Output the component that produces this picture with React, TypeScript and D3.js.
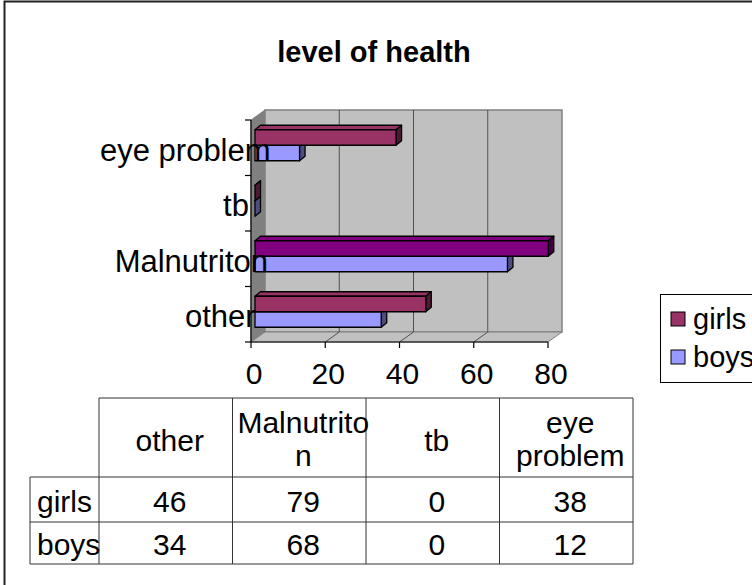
import React from "react";
import * as d3 from "d3";

const title = "level of health";
const categories = ["other", "Malnutriton", "tb", "eye problem"];
const seriesNames = ["girls", "boys"];
const girls = [46, 79, 0, 38];
const boys = [34, 68, 0, 12];
const xTicks = [0, 20, 40, 60, 80];
const headerLines = [["other"], ["Malnutrito", "n"], ["tb"], ["eye", "problem"]];

const FONT = "'Liberation Sans', Arial, Helvetica, sans-serif";

let ctx: CanvasRenderingContext2D | null = null;
function measure(text: string, size: number, bold = false): number {
  if (!ctx) ctx = document.createElement("canvas").getContext("2d");
  if (!ctx) return text.length * size * 0.5;
  ctx.font = `${bold ? "bold " : ""}${size}px ${FONT}`;
  return ctx.measureText(text).width;
}

const W = 752;
const H = 585;

// plot box (front plane)
const FX0 = 251;
const FX1 = 548;
const FY0 = 120;
const FY1 = 342;
const DX = 14;
const DY = -10;

const xScale = d3.scaleLinear().domain([0, 80]).range([FX0, FX1]);
const yBand = d3.scaleBand<string>().domain(categories).range([FY1, FY0]);
const sub = d3
  .scaleBand<string>()
  .domain(seriesNames)
  .range([0, yBand.bandwidth()])
  .paddingInner(0)
  .paddingOuter(0.79);

const girlsColors = ["#993366", "#800080", "#993366", "#993366"];
const girlsSide = ["#4d1a33", "#400040", "#4d1a33", "#4d1a33"];
const boysColor = "#9999ff";
const boysSide = "#4d4d80";

const BAR_DX0 = 4;
const BAR_DY0 = -2.5;
const BDX = 5.5;
const BDY = -4.5;

function pts(p: [number, number][]) {
  return p.map((q) => q.join(",")).join(" ");
}

function Bar({ v, y, h, fill, side }: { v: number; y: number; h: number; fill: string; side: string }) {
  const xa = xScale(0) + BAR_DX0;
  const xb = xScale(v) + BAR_DX0;
  const yy = y + BAR_DY0;
  return (
    <g stroke="#000" strokeWidth={1.3} strokeLinejoin="round">
      <polygon
        points={pts([
          [xa, yy],
          [xa + BDX, yy + BDY],
          [xb + BDX, yy + BDY],
          [xb, yy],
        ])}
        fill={fill}
      />
      <polygon
        points={pts([
          [xb, yy],
          [xb + BDX, yy + BDY],
          [xb + BDX, yy + h + BDY],
          [xb, yy + h],
        ])}
        fill={side}
      />
      {v > 0 && <rect x={xa} y={yy} width={xb - xa} height={h} fill={fill} />}
    </g>
  );
}

export default function App() {
  const bw = sub.bandwidth();
  const catFont = 31;
  const tickFont = 30;
  const tblFont = 30;

  // table geometry
  const colX = d3.range(5).map((i) => 99 + i * 133.5);
  const rowY = [398, 477, 522, 564];
  const rowLabelX = 30;

  return (
    <svg
      width={W}
      height={H}
      style={{ position: "absolute", left: 0, top: 0, background: "#fff" }}
      fontFamily={FONT}
    >
      <rect x={4.5} y={1.5} width={800} height={700} fill="#fff" stroke="#222" strokeWidth={2} />

      <text x={374} y={62} textAnchor="middle" fontSize={29} fontWeight="bold">
        {title}
      </text>

      {/* walls */}
      <polygon
        points={pts([
          [FX0, FY0],
          [FX0 + DX, FY0 + DY],
          [FX0 + DX, FY1 + DY],
          [FX0, FY1],
        ])}
        fill="#808080"
        stroke="#808080"
      />
      <polygon
        points={pts([
          [FX0 + DX, FY0 + DY],
          [FX1 + DX, FY0 + DY],
          [FX1 + DX, FY1 + DY],
          [FX0 + DX, FY1 + DY],
        ])}
        fill="#c0c0c0"
        stroke="#808080"
        strokeWidth={1.5}
      />
      <polygon
        points={pts([
          [FX0, FY1],
          [FX0 + DX, FY1 + DY],
          [FX1 + DX, FY1 + DY],
          [FX1, FY1],
        ])}
        fill="#c0c0c0"
        stroke="#808080"
      />
      {/* gridlines */}
      {xTicks.slice(1, -1).map((t) => (
        <g key={"g" + t} stroke="#505050" strokeWidth={1}>
          <line x1={xScale(t) + DX} x2={xScale(t) + DX} y1={FY0 + DY} y2={FY1 + DY} />
          <line x1={xScale(t) + DX} x2={xScale(t)} y1={FY1 + DY} y2={FY1} />
        </g>
      ))}

      {/* bars */}
      {categories.map((c, i) => {
        const y0 = yBand(c)!;
        return (
          <g key={c}>
            <Bar v={boys[i]} y={y0 + sub("boys")!} h={bw} fill={boysColor} side={boysSide} />
            <Bar v={girls[i]} y={y0 + sub("girls")!} h={bw} fill={girlsColors[i]} side={girlsSide[i]} />
          </g>
        );
      })}

      {/* axes */}
      <g stroke="#000" strokeWidth={1.2}>
        <line x1={FX0} x2={FX0} y1={FY0} y2={FY1} />
        <line x1={FX0} x2={FX1} y1={FY1} y2={FY1} />
        {d3.range(categories.length + 1).map((k) => {
          const y = FY1 - k * yBand.step();
          return <line key={"yt" + k} x1={FX0 - 6} x2={FX0} y1={y} y2={y} />;
        })}
        {xTicks.map((t) => (
          <line key={"xt" + t} x1={xScale(t)} x2={xScale(t)} y1={FY1} y2={FY1 + 6} />
        ))}
      </g>

      {/* category labels */}
      {categories.map((c) => {
        const w = measure(c, catFont);
        const y = yBand(c)! + yBand.bandwidth() / 2 + 13;
        return (
          <text key={"cl" + c} x={245 - 0.85 * w} y={y} fontSize={catFont}>
            {c}
          </text>
        );
      })}

      {/* tick labels */}
      {xTicks.map((t) => (
        <text key={"tl" + t} x={xScale(t) + 3} y={384} textAnchor="middle" fontSize={tickFont}>
          {t}
        </text>
      ))}

      {/* legend */}
      <rect x={660.5} y={294.5} width={120} height={88} fill="#fff" stroke="#000" strokeWidth={1} />
      {seriesNames.map((s, i) => (
        <g key={"lg" + s}>
          <rect
            x={671}
            y={312 + i * 38}
            width={14}
            height={14}
            fill={s === "girls" ? girlsColors[0] : boysColor}
            stroke="#000"
            strokeWidth={1}
          />
          <text x={693} y={329 + i * 38} fontSize={29}>
            {s}
          </text>
        </g>
      ))}

      {/* data table */}
      <g stroke="#333" strokeWidth={1} fill="none">
        <line x1={colX[0]} x2={colX[4]} y1={rowY[0]} y2={rowY[0]} />
        <line x1={rowLabelX} x2={colX[4]} y1={rowY[1]} y2={rowY[1]} />
        <line x1={rowLabelX} x2={colX[4]} y1={rowY[2]} y2={rowY[2]} />
        <line x1={rowLabelX} x2={colX[4]} y1={rowY[3]} y2={rowY[3]} />
        <line x1={rowLabelX} x2={rowLabelX} y1={rowY[1]} y2={rowY[3]} />
        {colX.map((x, i) => (
          <line key={"cx" + i} x1={x} x2={x} y1={rowY[0]} y2={rowY[3]} />
        ))}
      </g>
      {headerLines.map((lines, i) => {
        const cx = (colX[i] + colX[i + 1]) / 2 + 4;
        if (lines.length === 1)
          return (
            <text key={"h" + i} x={cx} y={451} textAnchor="middle" fontSize={tblFont}>
              {lines[0]}
            </text>
          );
        return (
          <text key={"h" + i} x={cx} y={433} textAnchor="middle" fontSize={tblFont}>
            {lines.map((l, j) => (
              <tspan key={j} x={cx} dy={j === 0 ? 0 : 33}>
                {l}
              </tspan>
            ))}
          </text>
        );
      })}
      {[girls, boys].map((vals, r) => (
        <g key={"row" + r}>
          <text x={rowLabelX + 7} y={(rowY[r + 1] + rowY[r + 2]) / 2 + 12} fontSize={tblFont}>
            {seriesNames[r]}
          </text>
          {vals.map((v, i) => (
            <text
              key={i}
              x={(colX[i] + colX[i + 1]) / 2 + 4}
              y={(rowY[r + 1] + rowY[r + 2]) / 2 + 12}
              textAnchor="middle"
              fontSize={tblFont}
            >
              {v}
            </text>
          ))}
        </g>
      ))}
    </svg>
  );
}
